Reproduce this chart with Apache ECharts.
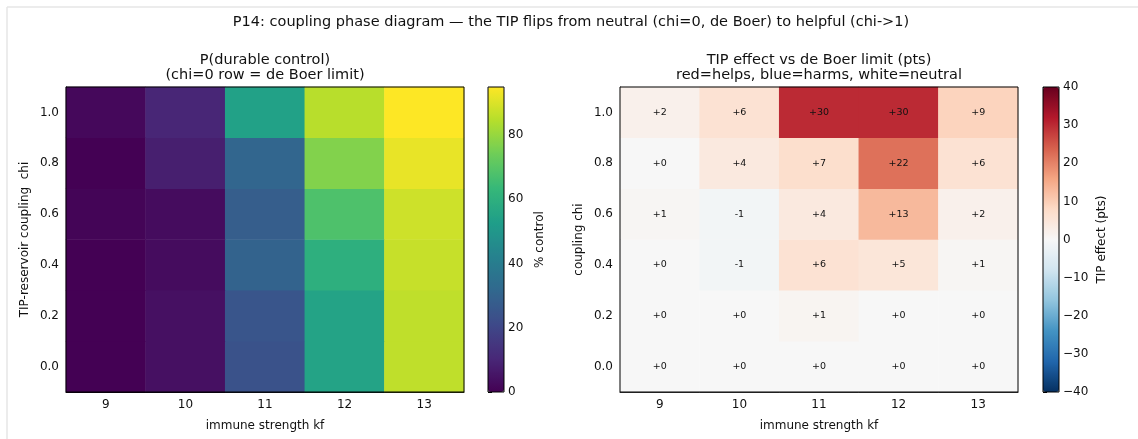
<!DOCTYPE html>
<html>
<head>
<meta charset="utf-8">
<script src="https://cdn.jsdelivr.net/npm/echarts@6/dist/echarts.min.js"></script>
<style>
  html, body { margin: 0; padding: 0; background: #fff; }
  #chart { width: 1138px; height: 439px; }
</style>
</head>
<body>
<div id="chart"></div>
<script>
'use strict';

// categories
var kfLabels = ['9', '10', '11', '12', '13'];
var chiLabels = ['0.0', '0.2', '0.4', '0.6', '0.8', '1.0'];

// P(durable control) in %, one row per chi (bottom to top), columns = kf
var controlByChi = [
    [0, 4, 24, 55, 86],
    [0, 4, 25, 55, 86],
    [0, 3, 30, 60, 87],
    [1, 3, 28, 68, 88],
    [0, 8, 31, 77, 92],
    [2, 10, 54, 85, 95]
];

// TIP effect vs de Boer limit (pts)
var effectByChi = [
    [0, 0, 0, 0, 0],
    [0, 0, 1, 0, 0],
    [0, -1, 6, 5, 0.6],
    [0.6, -1, 4, 13, 2],
    [0, 4, 7, 22, 6],
    [2, 6, 30, 30, 9]
];

var controlTicks = [0, 20, 40, 60, 80];
var effectTicks = [-40, -30, -20, -10, 0, 10, 20, 30, 40];

var viridis = ['#440154', '#482878', '#3e4a89', '#31688e', '#26828e',
    '#1f9e89', '#35b779', '#6dcd59', '#b4de2c', '#fde725'];
var rdbuR = ['#053061', '#2166ac', '#4393c3', '#92c5de', '#d1e5f0', '#f7f7f7',
    '#fddbc7', '#f4a582', '#d6604d', '#b2182b', '#67001f'];

function toCells(rows) {
    var out = [];
    rows.forEach(function(row, i) {
        row.forEach(function(v, j) {
            out.push([j, i, v]);
        });
    });
    return out;
}

var FONT = 'DejaVu Sans';
var txt = { color: '#111', fontFamily: FONT, fontSize: 12 };

function catAxis(grid, data, name, gap, rotate) {
    return {
        gridIndex: grid,
        type: 'category',
        data: data,
        axisLine: { lineStyle: { color: '#000', width: 1 } },
        axisTick: { alignWithLabel: true, length: 4, lineStyle: { color: '#000' } },
        axisLabel: { color: '#111', fontFamily: FONT, fontSize: 12, margin: 7 },
        splitLine: { show: false },
        name: name,
        nameLocation: 'middle',
        nameGap: gap,
        nameRotate: rotate,
        nameTextStyle: txt
    };
}

function barAxis(grid, min, max, ticks, name, gap) {
    return {
        gridIndex: grid,
        type: 'value',
        min: min,
        max: max,
        position: 'right',
        axisLine: { show: false },
        splitLine: { show: false },
        axisTick: { show: true, length: 4, customValues: ticks, lineStyle: { color: '#000' } },
        axisLabel: {
            color: '#111', fontFamily: FONT, fontSize: 12, margin: 4,
            customValues: ticks,
            formatter: function(v) { return v < 0 ? '\u2212' + Math.abs(v) : String(v); }
        },
        name: name,
        nameLocation: 'middle',
        nameGap: gap,
        nameRotate: 90,
        nameTextStyle: txt
    };
}

var chart = echarts.init(document.getElementById('chart'));

var titleFont = { fontSize: 14.5, lineHeight: 15, fontWeight: 'normal', color: '#111', fontFamily: FONT };

var option = {
    backgroundColor: '#fff',
    animation: false,
    textStyle: { fontFamily: FONT },
    title: [{
        text: 'P14: coupling phase diagram \u2014 the TIP flips from neutral (chi=0, de Boer) to helpful (chi->1)',
        left: 571, top: 15, textAlign: 'center', padding: 0,
        textStyle: titleFont
    }, {
        text: 'P(durable control)\n(chi=0 row = de Boer limit)',
        left: 265, top: 53, textAlign: 'center', padding: 0,
        textStyle: titleFont
    }, {
        text: 'TIP effect vs de Boer limit (pts)\nred=helps, blue=harms, white=neutral',
        left: 819, top: 53, textAlign: 'center', padding: 0,
        textStyle: titleFont
    }],
    graphic: [
        { type: 'line', shape: { x1: 7, y1: 7, x2: 1138, y2: 7 }, style: { stroke: '#e6e6e6', lineWidth: 1.5 }, silent: true },
        { type: 'line', shape: { x1: 7, y1: 7, x2: 7, y2: 439 }, style: { stroke: '#e6e6e6', lineWidth: 1.5 }, silent: true }
    ],
    grid: [
        { left: 66, top: 87, width: 398, height: 305, show: true, borderColor: '#000', borderWidth: 1, backgroundColor: 'transparent', z: 5 },
        { left: 620, top: 87, width: 398, height: 305, show: true, borderColor: '#000', borderWidth: 1, backgroundColor: 'transparent', z: 5 },
        { left: 488, top: 87, width: 16, height: 305, show: true, borderColor: '#000', borderWidth: 1, backgroundColor: 'transparent', z: 6 },
        { left: 1043, top: 87, width: 16, height: 305, show: true, borderColor: '#000', borderWidth: 1, backgroundColor: 'transparent', z: 6 }
    ],
    xAxis: [
        catAxis(0, kfLabels, 'immune strength kf', 28, 0),
        catAxis(1, kfLabels, 'immune strength kf', 28, 0),
        { gridIndex: 2, type: 'value', min: 0, max: 1, show: false },
        { gridIndex: 3, type: 'value', min: 0, max: 1, show: false }
    ],
    yAxis: [
        catAxis(0, chiLabels, 'TIP-reservoir coupling  chi', 35, 90),
        catAxis(1, chiLabels, 'coupling chi', 35, 90),
        barAxis(2, 0, 95, controlTicks, '% control', 30),
        barAxis(3, -40, 40, effectTicks, 'TIP effect (pts)', 37)
    ],
    visualMap: [{
        type: 'continuous',
        seriesIndex: 0,
        min: 0, max: 95,
        calculable: false,
        hoverLink: false,
        left: 488, top: 87, padding: 0,
        itemWidth: 16, itemHeight: 305,
        inRange: { color: viridis }
    }, {
        type: 'continuous',
        seriesIndex: 1,
        min: -40, max: 40,
        calculable: false,
        hoverLink: false,
        left: 1043, top: 87, padding: 0,
        itemWidth: 16, itemHeight: 305,
        inRange: { color: rdbuR }
    }],
    series: [{
        name: 'P(durable control)',
        type: 'heatmap',
        xAxisIndex: 0, yAxisIndex: 0,
        data: toCells(controlByChi),
        emphasis: { disabled: true }
    }, {
        name: 'TIP effect',
        type: 'heatmap',
        xAxisIndex: 1, yAxisIndex: 1,
        data: toCells(effectByChi),
        emphasis: { disabled: true },
        label: {
            show: true,
            fontSize: 9.5,
            fontFamily: FONT,
            color: '#111',
            formatter: function(p) {
                var v = Math.round(p.value[2]);
                return (v >= 0 ? '+' : '') + v;
            }
        }
    }]
};

chart.setOption(option);
</script>
</body>
</html>
